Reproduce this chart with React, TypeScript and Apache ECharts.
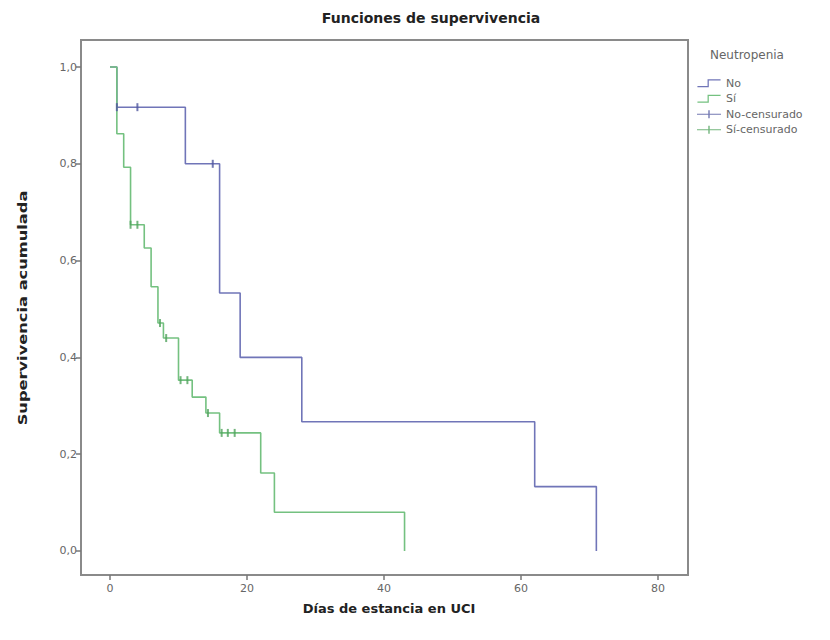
import React, { useEffect, useRef } from "react";
import * as echarts from "echarts";

const xTicks = [0, 20, 40, 60, 80];
const yTicks = [0, 0.2, 0.4, 0.6, 0.8, 1.0];

const noTimes = [0, 1, 11, 16, 19, 28, 62, 71];
const noSurv = [1, 0.917, 0.8, 0.533, 0.4, 0.267, 0.133, 0];
const siTimes = [0, 1, 2, 3, 5, 6, 7, 7.8, 10, 12, 14, 16, 22, 24, 43];
const siSurv = [1, 0.862, 0.793, 0.674, 0.626, 0.546, 0.471, 0.44, 0.353, 0.318, 0.285, 0.244, 0.161, 0.08, 0];

const noCensTimes = [1, 4, 15];
const noCensSurv = [0.917, 0.917, 0.8];
const siCensTimes = [3, 4, 7.3, 8.2, 10.3, 11.3, 14.3, 16.3, 17.2, 18.2];
const siCensSurv = [0.674, 0.674, 0.471, 0.44, 0.353, 0.353, 0.285, 0.244, 0.244, 0.244];

const seriesNames = ["No", "Sí", "No-censurado", "Sí-censurado"];

const BLUE = "#7075b8";
const GREEN = "#74c180";
const BLUE_D = "#50579f";
const GREEN_D = "#50a35d";
const FONT = "DejaVu Sans";

const zip = (a: number[], b: number[]) => a.map((v, i) => [v, b[i]]);

export default function App() {
  const ref = useRef<HTMLDivElement>(null);
  useEffect(() => {
    if (!ref.current) return;
    const chart = echarts.init(ref.current, null, { renderer: "svg" });
    const stepIcon = "path://M0,7 L10.5,7 L10.5,0 L24,0 L24,1.3 L11.8,1.3 L11.8,8.3 L0,8.3 Z";
    const plusIcon = "path://M0,3.4 L24,3.4 L24,4.6 L0,4.6 Z M11.3,0 L12.7,0 L12.7,8 L11.3,8 Z";
    chart.setOption({
      animation: false,
      backgroundColor: "#ffffff",
      grid: { left: 81, top: 40, width: 607, height: 535, containLabel: false },
      xAxis: {
        type: "value",
        min: -4.234,
        max: 84.38,
        axisLine: { show: false, onZero: false },
        axisTick: { show: true, length: 5, customValues: xTicks, lineStyle: { color: "#777", width: 1.5 } },
        axisLabel: {
          margin: 8,
          fontSize: 11,
          color: "#666",
          fontFamily: FONT,
          customValues: xTicks,
        },
        splitLine: { show: false },
      },
      yAxis: {
        type: "value",
        min: -0.0496,
        max: 1.0558,
        axisLine: { show: false, onZero: false },
        axisTick: { show: true, length: 5, customValues: yTicks, lineStyle: { color: "#777", width: 1.5 } },
        axisLabel: {
          margin: 4,
          fontSize: 11,
          color: "#666",
          fontFamily: FONT,
          customValues: yTicks,
          formatter: (v: number) => v.toFixed(1).replace(".", ","),
        },
        splitLine: { show: false },
      },
      legend: {
        show: true,
        orient: "vertical",
        left: 697,
        top: 77,
        padding: 0,
        itemWidth: 24,
        itemHeight: 8,
        itemGap: 3,
        textStyle: { fontSize: 11, color: "#666", fontFamily: FONT, lineHeight: 12.5 },
        data: [
          { name: seriesNames[0], icon: stepIcon },
          { name: seriesNames[1], icon: stepIcon },
          { name: seriesNames[2], icon: plusIcon },
          { name: seriesNames[3], icon: plusIcon },
        ],
      },
      graphic: [
        {
          type: "rect",
          shape: { x: 81, y: 40, width: 607, height: 535 },
          style: { fill: "none", stroke: "#8a8a8a", lineWidth: 2 },
          silent: true,
        },
        {
          type: "text",
          x: 431,
          y: 18,
          style: {
            text: "Funciones de supervivencia",
            fontFamily: FONT,
            fontWeight: "bold",
            fontSize: 14,
            fill: "#222",
            align: "center",
            verticalAlign: "middle",
          },
        },
        {
          type: "text",
          x: 389,
          y: 608,
          style: {
            text: "Días de estancia en UCI",
            fontFamily: FONT,
            fontWeight: "bold",
            fontSize: 13,
            fill: "#222",
            align: "center",
            verticalAlign: "middle",
          },
        },
        {
          type: "text",
          x: 22,
          y: 308,
          rotation: Math.PI / 2,
          scaleX: 1.25,
          style: {
            text: "Supervivencia acumulada",
            fontFamily: FONT,
            fontWeight: "bold",
            fontSize: 13,
            fill: "#222",
            align: "center",
            verticalAlign: "middle",
          },
        },
        {
          type: "text",
          x: 710,
          y: 55,
          style: {
            text: "Neutropenia",
            fontFamily: FONT,
            fontSize: 12,
            fill: "#666",
            align: "left",
            verticalAlign: "middle",
          },
        },
      ],
      series: [
        {
          name: seriesNames[0],
          type: "line",
          step: "end",
          data: zip(noTimes, noSurv),
          showSymbol: false,
          clip: false,
          color: BLUE,
          lineStyle: { color: BLUE, width: 1.6 },
          itemStyle: { color: BLUE },
          z: 2,
        },
        {
          name: seriesNames[1],
          type: "line",
          step: "end",
          data: zip(siTimes, siSurv),
          showSymbol: false,
          clip: false,
          color: GREEN,
          lineStyle: { color: GREEN, width: 1.6 },
          itemStyle: { color: GREEN },
          z: 3,
        },
        {
          name: seriesNames[2],
          type: "scatter",
          data: zip(noCensTimes, noCensSurv),
          symbol: "rect",
          symbolSize: [2, 8],
          color: BLUE_D,
          itemStyle: { color: BLUE_D },
          z: 4,
        },
        {
          name: seriesNames[3],
          type: "scatter",
          data: zip(siCensTimes, siCensSurv),
          symbol: "rect",
          symbolSize: [2, 8],
          color: GREEN_D,
          itemStyle: { color: GREEN_D },
          z: 4,
        },
      ],
    });
    return () => chart.dispose();
  }, []);
  return (
    <div
      ref={ref}
      style={{ position: "fixed", left: 0, top: 0, width: 830, height: 640, background: "#fff" }}
    />
  );
}
